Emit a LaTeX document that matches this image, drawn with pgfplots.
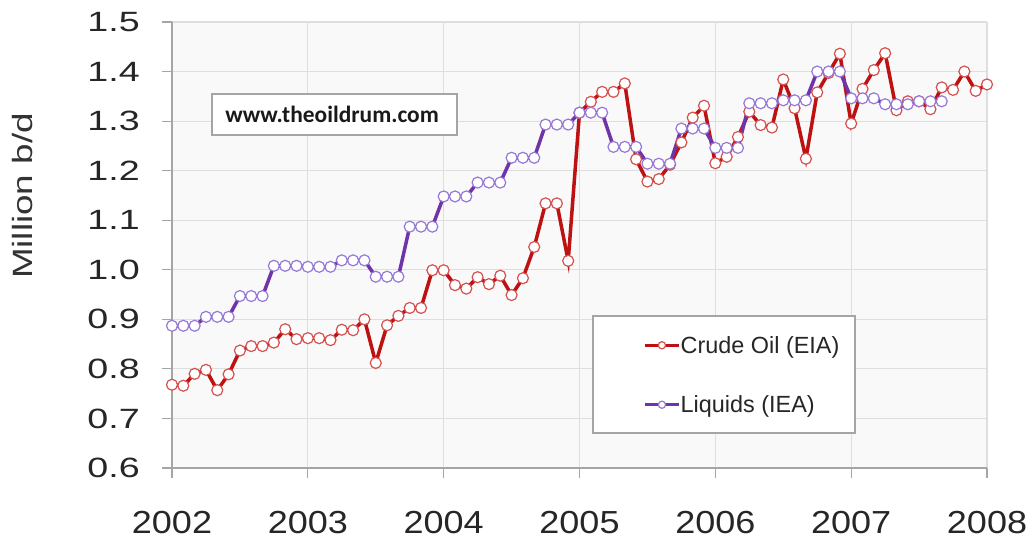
\documentclass[border=0pt]{standalone}
\usepackage{fontspec}
\setmainfont{Liberation Sans}
\newfontfamily\carlito{Carlito}
\usepackage{graphicx}
\usepackage{pgfplots}
\pgfplotsset{compat=1.18}
\definecolor{crude}{RGB}{190,18,18}
\definecolor{crudem}{RGB}{214,80,80}
\definecolor{liq}{RGB}{112,52,168}
\definecolor{liqm}{RGB}{150,120,215}
\definecolor{gridc}{RGB}{222,222,222}
\definecolor{axc}{RGB}{165,165,165}
\definecolor{bgc}{RGB}{249,249,249}
\newcommand\sx[1]{\scalebox{1.13}[1]{#1}}
\newcommand\sy[1]{\scalebox{1.35}[1]{#1}}

\pgfplotstableread{
m v
0 0.768
1 0.766
2 0.790
3 0.798
4 0.757
5 0.789
6 0.837
7 0.846
8 0.846
9 0.853
10 0.880
11 0.860
12 0.862
13 0.862
14 0.858
15 0.879
16 0.878
17 0.900
18 0.812
19 0.888
20 0.907
21 0.923
22 0.923
23 0.999
24 0.999
25 0.969
26 0.962
27 0.985
28 0.971
29 0.988
30 0.949
31 0.983
32 1.046
33 1.134
34 1.134
35 1.018
36 1.317
37 1.339
38 1.359
39 1.359
40 1.376
41 1.223
42 1.178
43 1.183
44 1.212
45 1.257
46 1.307
47 1.331
48 1.215
49 1.228
50 1.268
51 1.319
52 1.292
53 1.287
54 1.384
55 1.326
56 1.224
57 1.358
58 1.397
59 1.436
60 1.295
61 1.365
62 1.403
63 1.437
64 1.322
65 1.340
66 1.340
67 1.324
68 1.368
69 1.363
70 1.400
71 1.361
72 1.374
}\crude

\pgfplotstableread{
m v
0 0.887
1 0.887
2 0.887
3 0.905
4 0.905
5 0.905
6 0.947
7 0.947
8 0.947
9 1.008
10 1.008
11 1.008
12 1.006
13 1.006
14 1.006
15 1.019
16 1.019
17 1.019
18 0.986
19 0.986
20 0.986
21 1.087
22 1.087
23 1.087
24 1.148
25 1.148
26 1.148
27 1.176
28 1.176
29 1.176
30 1.226
31 1.226
32 1.226
33 1.293
34 1.293
35 1.293
36 1.317
37 1.317
38 1.317
39 1.248
40 1.248
41 1.248
42 1.214
43 1.214
44 1.214
45 1.285
46 1.285
47 1.285
48 1.246
49 1.246
50 1.246
51 1.336
52 1.336
53 1.336
54 1.342
55 1.342
56 1.342
57 1.400
58 1.400
59 1.400
60 1.346
61 1.346
62 1.346
63 1.334
64 1.334
65 1.334
66 1.340
67 1.340
68 1.340
}\liquids

\begin{document}
\begin{tikzpicture}[x=1bp,y=1bp]
\useasboundingbox (0,0) rectangle (1030,544);
\begin{axis}[
  at={(172bp,76bp)}, anchor=south west,
  scale only axis, width=815bp, height=446bp,
  xmin=0, xmax=72, ymin=0.6, ymax=1.5,
  clip=false,
  axis background/.style={fill=bgc},
  axis lines*=left,
  axis line style={axc, line width=1.2bp},
  grid=major, major grid style={gridc, line width=1.2bp},
  tick align=outside, major tick length=10bp,
  tick style={axc, line width=1.2bp},
  xtick={0,12,24,36,48,60,72},
  xticklabels={\sx{2002},\sx{2003},\sx{2004},\sx{2005},\sx{2006},\sx{2007},\sx{2008}},
  ytick={0.6,0.7,0.8,0.9,1.0,1.1,1.2,1.3,1.4,1.5},
  yticklabels={\sy{0.6},\sy{0.7},\sy{0.8},\sy{0.9},\sy{1.0},\sy{1.1},\sy{1.2},\sy{1.3},\sy{1.4},\sy{1.5}},
  xticklabel style={font=\fontsize{32}{32}\selectfont, text=black!85, anchor=north, inner sep=0pt, yshift=-33bp},
  yticklabel style={font=\fontsize{28}{28}\selectfont, text=black!85, anchor=east, inner sep=0pt, xshift=-22bp},
  legend style={at={(rel axis cs:0.5779,0.2085)}, anchor=west, draw=none, fill=none,
    inner sep=0pt, row sep=41bp, font=\fontsize{23.5}{23.5}\selectfont,
    nodes={inner sep=0pt, text=black!85}},
  legend cell align=left,
  legend image code/.code={\draw[mark repeat=2,mark phase=2,#1,mark size=3.6bp,line width=3.5bp]
    plot coordinates {(0bp,0bp) (17bp,0bp) (34bp,0bp)};},
]
\addplot[crude, line width=3.5bp, mark=*, mark size=5.5bp,
  mark options={fill=white, draw=crudem, line width=1.2bp}] table[x=m,y=v] {\crude};
\addlegendentry{Crude Oil (EIA)}
\addplot[liq, line width=3.5bp, mark=*, mark size=5.5bp,
  mark options={fill=white, draw=liqm, line width=1.2bp}] table[x=m,y=v] {\liquids};
\addlegendentry{Liquids (IEA)}
\draw[axc, line width=1.2bp, fill=white] (rel axis cs:0.5166,0.3408) rectangle (rel axis cs:0.838,0.0785);
\draw[axc, line width=1.2bp, fill=white] (rel axis cs:0.0491,0.8386) rectangle (rel axis cs:0.3497,0.7466);
\node[font=\carlito\bfseries\fontsize{23.5}{23.5}\selectfont, text=black!90] at (rel axis cs:0.1964,0.7926) {www.theoildrum.com};
\end{axis}
\node[rotate=90, font=\fontsize{28}{28}\selectfont, text=black!80] at (23,348) {\scalebox{1.32}[1]{Million b/d}};
\end{tikzpicture}
\end{document}
